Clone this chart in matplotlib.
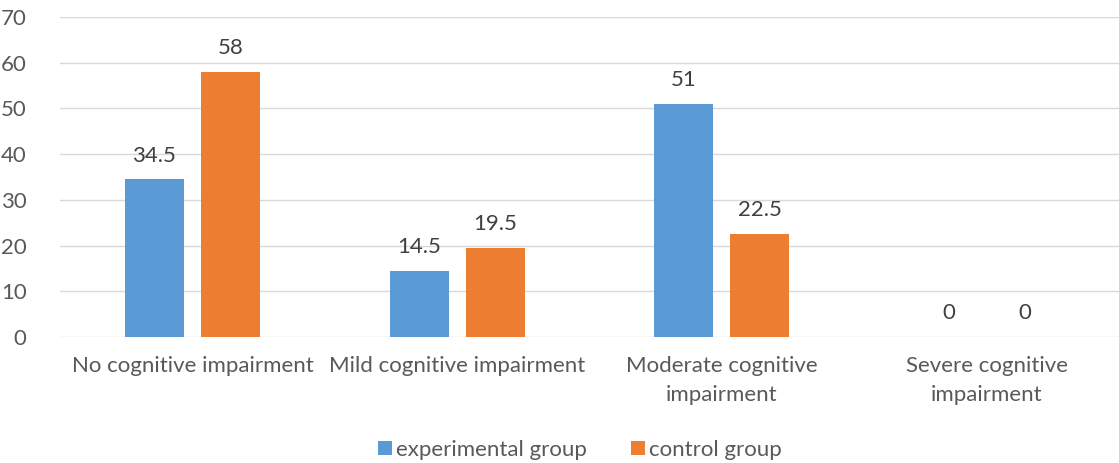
import numpy as np
import matplotlib
matplotlib.use('Agg')
import matplotlib.pyplot as plt

categories = ['No cognitive impairment', 'Mild cognitive impairment',
              'Moderate cognitive\nimpairment', 'Severe cognitive\nimpairment']
experimental = [34.5, 14.5, 51, 0]
control = [58, 19.5, 22.5, 0]
series_names = ['experimental group', 'control group']

plt.rcParams['font.family'] = ['Lato', 'DejaVu Sans']
text_color = '#595959'
fs = 16

fig = plt.figure(figsize=(11.19, 4.63), dpi=100)
ax = fig.add_axes([60 / 1119, 126 / 463, 1059 / 1119, 320 / 463])

x = np.arange(len(categories))
w = 0.223
off = (w + 0.064) / 2
b1 = ax.bar(x - off, experimental, w, color='#5B9BD5', label=series_names[0], zorder=3)
b2 = ax.bar(x + off, control, w, color='#ED7D31', label=series_names[1], zorder=3)

for bars in (b1, b2):
    for r in bars:
        v = r.get_height()
        ax.text(r.get_x() + r.get_width() / 2, v + 3.0, f'{v:g}', ha='center', va='bottom',
                fontsize=fs, color='#404040')

ax.set_xlim(-0.5, len(categories) - 0.5)
ax.set_ylim(0, 70)
ax.set_yticks(range(0, 71, 10))
ax.set_xticks(x)
ax.set_xticklabels(categories, linespacing=1.55)
ax.grid(axis='y', color='#d9d9d9', linewidth=1, zorder=0)
ax.tick_params(axis='both', length=0, labelsize=fs, colors=text_color)
ax.tick_params(axis='x', pad=14)
ax.tick_params(axis='y', pad=24)
for s in ax.spines.values():
    s.set_visible(False)

fig.legend(handles=[b1, b2], labels=series_names, loc='center', bbox_to_anchor=(580 / 1119, 13 / 463),
           ncol=2, frameon=False, fontsize=fs, handlelength=0.6, handleheight=0.6,
           handletextpad=0.2, columnspacing=2.0, labelcolor=text_color)

fig.savefig('out.png', dpi=100)
